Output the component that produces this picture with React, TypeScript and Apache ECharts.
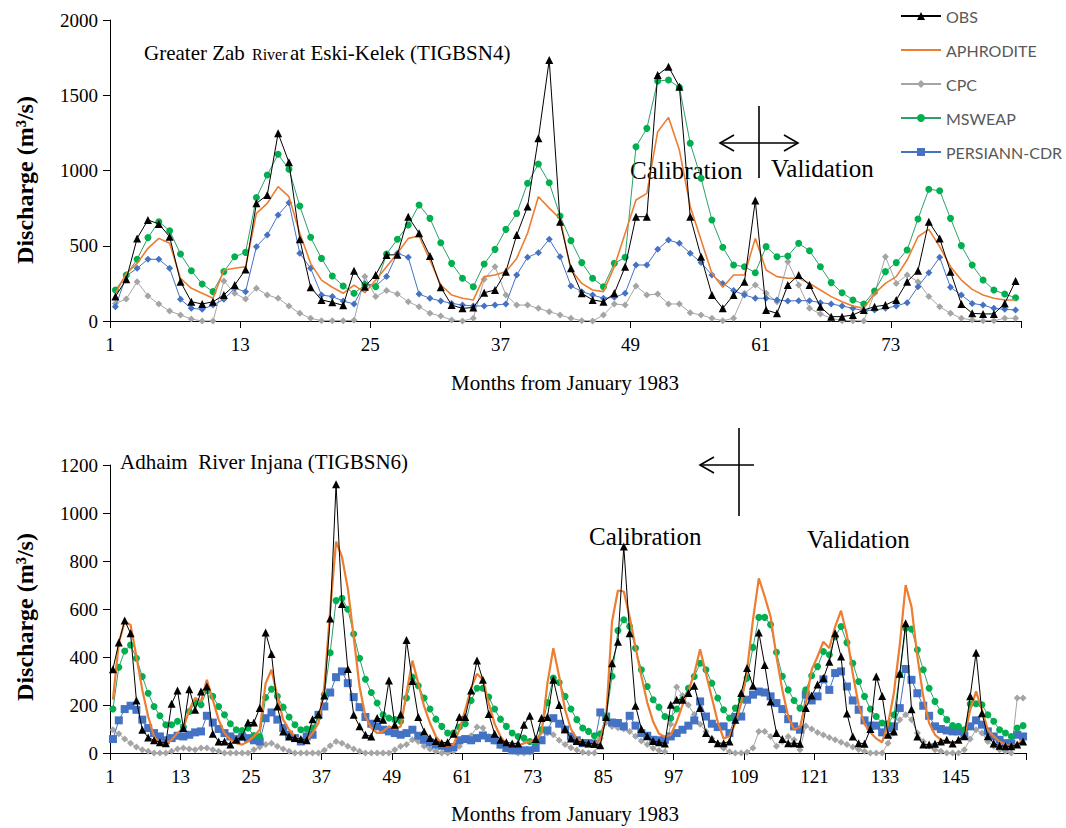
import React, { useEffect, useRef } from 'react';
import * as echarts from 'echarts';

// ---------- tick labels ----------
const X_LABELS_TOP = [1, 13, 25, 37, 49, 61, 73];
const X_LABELS_BOTTOM = [1, 13, 25, 37, 49, 61, 73, 85, 97, 109, 121, 133, 145];
const Y_TICKS_TOP = [0, 500, 1000, 1500, 2000];
const Y_TICKS_BOTTOM = [0, 200, 400, 600, 800, 1000, 1200];
const SERIES_NAMES = ['OBS', 'APHRODITE', 'CPC', 'MSWEAP', 'PERSIANN-CDR'];

// ---------- Greater Zab River at Eski-Kelek (84 months) ----------
const OBS_TOP = [
  162, 277, 549, 671, 645, 560, 261, 128, 113, 128,
  173, 239, 343, 782, 837, 1247, 1054, 543, 224, 140,
  124, 104, 334, 228, 306, 439, 440, 693, 583, 432,
  224, 106, 84, 90, 188, 206, 328, 571, 760, 1214,
  1734, 660, 350, 184, 140, 128, 184, 361, 693, 693,
  1635, 1690, 1557, 693, 427, 173, 84, 173, 261, 800,
  73, 51, 239, 306, 239, 95, 29, 29, 40, 73,
  95, 106, 140, 261, 334, 660, 549, 328, 113, 51,
  47, 47, 117, 266,
];
const APH_TOP = [
  184, 317, 383, 483, 549, 516, 284, 217, 184, 151,
  339, 350, 361, 715, 782, 893, 826, 583, 383, 272,
  224, 184, 239, 188, 272, 361, 450, 549, 565, 405,
  239, 173, 151, 140, 295, 306, 328, 416, 583, 826,
  750, 680, 339, 250, 206, 195, 361, 583, 804, 848,
  1258, 1353, 1136, 760, 538, 317, 224, 306, 306, 549,
  339, 295, 284, 284, 250, 206, 162, 128, 100, 84,
  184, 250, 295, 405, 560, 609, 494, 361, 272, 210,
  173, 151, 140, 140,
];
const CPC_TOP = [
  117, 146, 261, 166, 113, 66, 40, 13, 0, 0,
  266, 184, 146, 217, 173, 151, 100, 51, 18, 2,
  2, 2, 5, 295, 162, 202, 179, 128, 95, 51,
  33, 7, 0, 18, 277, 361, 173, 106, 106, 84,
  62, 40, 18, 2, 0, 40, 113, 106, 233, 173,
  179, 113, 113, 55, 40, 18, 2, 18, 184, 239,
  184, 128, 394, 239, 84, 47, 18, 2, 2, 0,
  184, 427, 250, 306, 261, 162, 95, 51, 18, 7,
  2, 2, 18, 18,
];
const MSW_TOP = [
  206, 306, 410, 554, 660, 600, 445, 334, 246, 195,
  328, 427, 456, 820, 970, 1108, 1008, 764, 556, 416,
  299, 233, 184, 239, 228, 445, 543, 638, 771, 682,
  520, 383, 284, 228, 379, 476, 609, 715, 915, 1043,
  919, 698, 534, 388, 284, 228, 383, 423, 1158, 1280,
  1595, 1601, 1553, 1181, 948, 671, 490, 372, 361, 321,
  494, 427, 432, 516, 467, 361, 255, 188, 140, 113,
  199, 328, 388, 472, 678, 875, 866, 682, 501, 372,
  272, 206, 179, 155,
];
const PER_TOP = [
  95, 299, 350, 410, 410, 350, 144, 84, 78, 106,
  144, 217, 195, 494, 571, 704, 786, 450, 350, 173,
  162, 133, 113, 250, 233, 295, 450, 423, 179, 151,
  133, 117, 106, 100, 100, 106, 113, 306, 423, 454,
  543, 427, 233, 195, 173, 151, 157, 184, 372, 372,
  476, 538, 516, 450, 388, 306, 250, 202, 173, 151,
  151, 140, 133, 135, 135, 122, 113, 100, 84, 69,
  73, 84, 100, 122, 228, 321, 423, 224, 173, 117,
  106, 84, 78, 73,
];

// ---------- Adhaim River Injana (156 months) ----------
const OBS_BOT = [
  349, 460, 552, 499, 219, 97, 65, 53, 45, 41,
  205, 260, 104, 266, 180, 256, 277, 80, 48, 48,
  35, 55, 69, 127, 127, 187, 502, 413, 194, 90,
  69, 62, 58, 53, 141, 160, 240, 560, 1120, 621,
  350, 159, 111, 76, 69, 146, 139, 302, 118, 160,
  471, 300, 150, 90, 62, 50, 42, 45, 80, 150,
  150, 260, 385, 305, 163, 80, 55, 45, 40, 40,
  118, 155, 58, 146, 150, 305, 200, 100, 60, 50,
  45, 40, 38, 32, 150, 374, 464, 860, 499, 197,
  100, 70, 50, 45, 40, 201, 222, 222, 250, 280,
  187, 83, 58, 41, 41, 48, 139, 250, 354, 280,
  502, 367, 215, 83, 58, 41, 41, 39, 188, 240,
  285, 312, 380, 499, 402, 165, 69, 41, 39, 100,
  319, 238, 76, 90, 330, 541, 182, 69, 35, 35,
  39, 48, 55, 40, 55, 70, 236, 418, 166, 70,
  40, 30, 28, 28, 35, 48,
];
const APH_BOT = [
  222, 458, 548, 534, 402, 263, 152, 69, 41, 39,
  55, 83, 104, 180, 229, 215, 305, 222, 139, 83,
  55, 41, 35, 48, 69, 97, 290, 347, 236, 139,
  97, 69, 55, 53, 83, 125, 277, 596, 881, 818,
  686, 485, 277, 152, 104, 83, 90, 111, 100, 110,
  250, 385, 291, 194, 125, 69, 39, 28, 35, 97,
  180, 270, 330, 305, 208, 122, 69, 35, 28, 30,
  41, 48, 53, 83, 291, 437, 319, 180, 100, 60,
  40, 35, 40, 55, 150, 548, 677, 673, 568, 440,
  320, 210, 130, 80, 68, 75, 130, 200, 260, 330,
  432, 330, 230, 130, 60, 70, 125, 208, 347, 555,
  728, 652, 568, 402, 263, 152, 97, 108, 208, 347,
  402, 464, 437, 527, 593, 492, 330, 200, 120, 85,
  60, 45, 120, 250, 450, 700, 610, 402, 236, 125,
  76, 55, 48, 44, 48, 69, 180, 257, 180, 97,
  69, 48, 35, 28, 35, 55,
];
const CPC_BOT = [
  97, 80, 58, 41, 25, 14, 7, 0, 0, 0,
  7, 17, 21, 17, 14, 21, 21, 14, 7, 0,
  0, 0, 0, 0, 14, 25, 35, 41, 28, 17,
  7, 0, 0, 0, 0, 0, 11, 30, 48, 41,
  28, 17, 7, 0, 0, 0, 0, 0, 14, 28,
  35, 55, 48, 28, 17, 7, 0, 0, 7, 28,
  58, 72, 108, 104, 69, 48, 30, 17, 7, 0,
  0, 3, 25, 58, 83, 76, 53, 35, 22, 12,
  3, 0, 0, 60, 127, 110, 105, 100, 90, 70,
  50, 35, 20, 10, 5, 120, 275, 240, 200, 160,
  120, 90, 60, 40, 20, 5, 0, 0, 3, 21,
  90, 90, 69, 28, 48, 69, 55, 14, 113, 100,
  85, 75, 65, 55, 45, 35, 25, 15, 7, 0,
  0, 0, 41, 83, 139, 159, 139, 83, 48, 28,
  14, 7, 0, 0, 0, 14, 58, 97, 83, 48,
  28, 14, 7, 0, 229, 229,
];
const MSW_BOT = [
  183, 357, 425, 450, 395, 319, 249, 194, 155, 118,
  118, 132, 108, 173, 208, 201, 261, 236, 194, 159,
  122, 97, 94, 104, 73, 69, 231, 266, 236, 191,
  150, 118, 97, 100, 104, 150, 243, 418, 635, 645,
  599, 496, 395, 307, 252, 208, 159, 146, 139, 132,
  229, 316, 280, 229, 183, 141, 111, 83, 83, 108,
  122, 219, 270, 270, 233, 183, 141, 111, 83, 69,
  62, 48, 48, 97, 210, 312, 294, 236, 183, 139,
  104, 90, 72, 80, 150, 320, 510, 555, 527, 437,
  347, 277, 222, 191, 152, 145, 183, 222, 270, 319,
  374, 347, 291, 229, 180, 146, 187, 222, 312, 440,
  565, 565, 535, 420, 320, 263, 219, 187, 263, 322,
  360, 423, 409, 485, 527, 460, 374, 298, 236, 183,
  152, 125, 122, 159, 326, 520, 516, 430, 347, 270,
  215, 173, 139, 114, 111, 97, 204, 205, 201, 159,
  132, 97, 83, 69, 104, 114,
];
const PER_BOT = [
  58, 136, 183, 197, 180, 139, 104, 83, 69, 53,
  62, 72, 69, 76, 86, 90, 155, 127, 100, 83,
  69, 58, 69, 62, 53, 48, 145, 169, 139, 104,
  76, 62, 48, 69, 76, 159, 194, 252, 316, 340,
  291, 233, 191, 150, 122, 111, 97, 90, 83, 76,
  83, 97, 72, 55, 44, 35, 30, 21, 25, 53,
  58, 53, 62, 73, 62, 53, 35, 21, 11, 11,
  11, 11, 21, 53, 94, 145, 122, 97, 69, 53,
  41, 41, 39, 169, 152, 127, 125, 111, 155, 114,
  83, 72, 55, 53, 55, 69, 83, 97, 114, 136,
  215, 152, 122, 108, 111, 83, 150, 152, 222, 243,
  256, 252, 236, 208, 183, 141, 111, 97, 243, 219,
  236, 307, 263, 333, 340, 277, 219, 180, 136, 114,
  114, 86, 104, 111, 187, 350, 305, 249, 197, 155,
  111, 100, 94, 90, 90, 72, 111, 136, 118, 90,
  69, 55, 41, 39, 76, 69,
];

const SERIF = '"Liberation Serif", "Times New Roman", serif';
const C_OBS = '#000000';
const C_APH = '#ED7D31';
const C_CPC = '#A5A5A5';
const C_MSW_LINE = '#2AA168';
const C_MSW = '#00B050';
const C_PER = '#4472C4';

const toXY = (arr: number[]) => arr.map((v, i) => [i + 1, v]);

function panelSeries(idx: number, data: Record<string, number[]>, perSymbol: string, aphWidth: number) {
  const base = { type: 'line', xAxisIndex: idx, yAxisIndex: idx, silent: true };
  return [
    {
      ...base, name: 'CPC', data: toXY(data.cpc), symbol: 'diamond', symbolSize: 7,
      lineStyle: { color: C_CPC, width: 1 }, itemStyle: { color: C_CPC }, z: 2,
    },
    {
      ...base, name: 'PERSIANN-CDR', data: toXY(data.per), symbol: perSymbol, symbolSize: perSymbol === 'rect' ? 8 : 7,
      lineStyle: { color: C_PER, width: 1 }, itemStyle: { color: C_PER }, z: 3,
    },
    {
      ...base, name: 'MSWEAP', data: toXY(data.msw), symbol: 'circle', symbolSize: 7,
      lineStyle: { color: C_MSW_LINE, width: 1 }, itemStyle: { color: C_MSW }, z: 4,
    },
    {
      ...base, name: 'APHRODITE', data: toXY(data.aph), symbol: 'none', showSymbol: false,
      lineStyle: { color: C_APH, width: aphWidth }, itemStyle: { color: C_APH }, z: 5,
    },
    {
      ...base, name: 'OBS', data: toXY(data.obs), symbol: 'triangle', symbolSize: 8,
      lineStyle: { color: C_OBS, width: 1 }, itemStyle: { color: C_OBS }, z: 6,
    },
  ];
}

function xAxisFor(idx: number, n: number, labels: number[]) {
  return {
    type: 'value', gridIndex: idx, min: 0.5, max: n + 0.5, interval: 12,
    axisLine: { show: true, lineStyle: { color: '#000', width: 1 } },
    axisTick: { show: true, inside: false, length: 7, lineStyle: { color: '#000' } },
    axisLabel: {
      margin: 14, color: '#000', fontFamily: SERIF, fontSize: 19, showMinLabel: true,
      formatter: (v: number) => {
        const m = Math.round(v + 0.5);
        return labels.includes(m) ? String(m) : '';
      },
    },
    splitLine: { show: false },
  };
}

function yAxisFor(idx: number, ticks: number[]) {
  return {
    type: 'value', gridIndex: idx, min: ticks[0], max: ticks[ticks.length - 1], interval: ticks[1] - ticks[0],
    axisLine: { show: true, lineStyle: { color: '#000', width: 1 } },
    axisTick: { show: true, inside: false, length: 7, lineStyle: { color: '#000' } },
    axisLabel: {
      margin: 12, color: '#000', fontFamily: SERIF, fontSize: 19,
      formatter: (v: number) => String(Math.round(v)),
    },
    splitLine: { show: false },
  };
}

function txt(x: number, y: number, text: string, size: number, align = 'left', rotation = 0, weight = 'normal') {
  return {
    type: 'text', x, y, rotation, silent: true,
    style: { text, fill: '#000', font: `${weight} ${size}px ${SERIF}`, align, verticalAlign: 'middle' },
  };
}
function seg(x1: number, y1: number, x2: number, y2: number) {
  return { type: 'line', silent: true, shape: { x1, y1, x2, y2 }, style: { stroke: '#000', lineWidth: 1.6 } };
}
function head(points: number[][]) {
  return { type: 'polyline', silent: true, shape: { points }, style: { stroke: '#000', lineWidth: 1.6, fill: 'none' } };
}

export default function App() {
  const ref = useRef<HTMLDivElement>(null);
  useEffect(() => {
    if (!ref.current) return;
    const chart = echarts.init(ref.current, null, { renderer: 'svg' });
    const option = {
      animation: false,
      backgroundColor: '#ffffff',
      legend: {
        data: SERIES_NAMES.map((n) =>
          n === 'APHRODITE' ? { name: n, icon: 'path://M0,0 L40,0 L40,2.2 L0,2.2 Z' } : { name: n }
        ),
        orient: 'vertical',
        left: 895,
        top: 2,
        itemWidth: 40,
        itemHeight: 10,
        itemGap: 16,
        selectedMode: false,
        textStyle: { fontFamily: 'Lato, "Open Sans", sans-serif', fontSize: 16, color: '#595959', lineHeight: 18 },
      },
      grid: [
        { left: 110, top: 20, width: 911, height: 301 },
        { left: 110, top: 465, width: 916, height: 288 },
      ],
      xAxis: [xAxisFor(0, OBS_TOP.length, X_LABELS_TOP), xAxisFor(1, OBS_BOT.length, X_LABELS_BOTTOM)],
      yAxis: [yAxisFor(0, Y_TICKS_TOP), yAxisFor(1, Y_TICKS_BOTTOM)],
      series: [
        ...panelSeries(1, { obs: OBS_BOT, aph: APH_BOT, cpc: CPC_BOT, msw: MSW_BOT, per: PER_BOT }, 'rect', 2.2),
        ...panelSeries(0, { obs: OBS_TOP, aph: APH_TOP, cpc: CPC_TOP, msw: MSW_TOP, per: PER_TOP }, 'diamond', 1.6),
      ],
      graphic: [
        txt(25, 180, 'Discharge (m³/s)', 24, 'center', Math.PI / 2, 'bold'),
        txt(25, 617, 'Discharge (m³/s)', 24, 'center', Math.PI / 2, 'bold'),
        txt(565, 383, 'Months from January 1983', 21, 'center'),
        txt(565, 814, 'Months from January 1983', 21, 'center'),
        txt(144, 53, 'Greater Zab', 21),
        txt(252, 54, 'River', 16),
        txt(290, 53, 'at Eski-Kelek (TIGBSN4)', 21),
        txt(120, 462, 'Adhaim  River Injana (TIGBSN6)', 21),
        txt(630, 170, 'Calibration', 25),
        txt(771, 168, 'Validation', 25),
        txt(589, 536, 'Calibration', 25),
        txt(807, 539, 'Validation', 25),
        seg(759, 106, 759, 178),
        seg(720, 143, 798, 143),
        head([[734, 135], [720, 143], [734, 151]]),
        head([[784, 135], [798, 143], [784, 151]]),
        seg(739, 428, 739, 516),
        seg(700, 465, 754, 465),
        head([[714, 457], [700, 465], [714, 473]]),
      ],
    };
    chart.setOption(option as any);
    return () => chart.dispose();
  }, []);
  return (
    <div
      ref={ref}
      style={{ position: 'fixed', left: 0, top: 0, width: 1066, height: 828, background: '#fff' }}
    />
  );
}
